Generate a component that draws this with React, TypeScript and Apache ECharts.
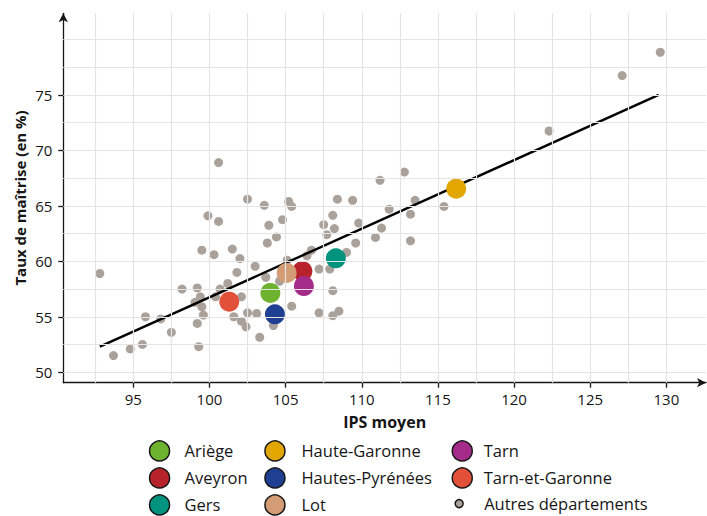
import React, { useEffect, useRef } from "react";
import * as echarts from "echarts";

// ---------- data ----------
const otherIps = [
  92.8, 93.7, 94.8, 95.6, 95.8, 96.8, 97.5, 98.2, 99.2, 99.4, 99.05, 99.5, 99.6, 99.2, 99.3,
  99.5, 99.9, 100.3, 100.6, 100.6, 100.7, 100.4, 101.2, 101.5, 101.6, 101.8, 102.0, 102.1,
  102.1, 102.4, 102.5, 102.5, 103.0, 103.1, 103.3, 103.6, 103.7, 103.8, 103.9, 104.2, 104.4,
  104.8, 105.2, 105.4, 105.4, 105.1, 106.7, 106.4, 107.2, 107.9, 108.1, 107.2, 108.1, 108.5,
  107.5, 107.7, 108.2, 108.1, 108.4, 109.4, 109.8, 109.6, 109.0, 110.9, 111.3, 111.2, 111.8,
  112.8, 113.2, 113.5, 113.2, 115.4, 122.3, 127.1, 129.6, 104.6,
];
const otherTaux = [
  58.9, 51.5, 52.1, 52.5, 55.0, 54.8, 53.6, 57.5, 57.6, 56.8, 56.3, 55.9, 55.15, 54.4, 52.3,
  61.0, 64.1, 60.6, 68.9, 63.6, 57.5, 56.8, 58.0, 61.1, 55.0, 59.0, 60.25, 56.8,
  54.6, 54.1, 55.35, 65.6, 59.55, 55.3, 53.15, 65.05, 58.56, 61.65, 63.25, 54.2, 62.2,
  63.75, 65.4, 64.95, 55.95, 60.1, 61.0, 60.5, 59.3, 59.3, 57.35, 55.35, 55.1, 55.5,
  63.3, 62.4, 62.95, 64.15, 65.6, 65.5, 63.45, 61.65, 60.8, 62.15, 63.0, 67.3, 64.7,
  68.05, 64.25, 65.5, 61.85, 64.95, 71.75, 76.75, 78.85, 58.2,
];

const deptNames = [
  "Ariège", "Aveyron", "Gers", "Haute-Garonne", "Hautes-Pyrénées", "Lot", "Tarn", "Tarn-et-Garonne",
];
const deptIps = [104.0, 106.1, 108.3, 116.2, 104.3, 105.07, 106.2, 101.3];
const deptTaux = [57.15, 59.1, 60.27, 66.55, 55.22, 58.95, 57.77, 56.36];
const deptColors = [
  "#6db32f", "#b8232b", "#00947f", "#e2a600", "#1f3f92", "#d49c74", "#a52b8b", "#e3503a",
];
const otherName = "Autres départements";

const regX = [92.8, 129.5];
const regY = [52.3, 75.0];

const xTicks = [95, 100, 105, 110, 115, 120, 125, 130];
const yTicks = [50, 55, 60, 65, 70, 75];
const xGridLines = [92.5, 95, 97.5, 100, 102.5, 105, 107.5, 110, 112.5, 115, 117.5, 120, 122.5, 125, 127.5, 130];
const yGridLines = [50, 52.5, 55, 57.5, 60, 62.5, 65, 67.5, 70, 72.5, 75, 77.5, 80];

// ---------- layout ----------
const FONT = "Open Sans";
const TXT = "#161616";
const PX_X_REF = 133.3; // pixel of xTicks[0]
const PX_PER_X = 15.23;
const PX_Y_REF = 372.2; // pixel of yTicks[0]
const PX_PER_Y = 11.09;
const P_LEFT = 63.3;
const P_RIGHT = 706;
const P_TOP = 13.3;
const P_BOTTOM = 382.7;

const toPxX = (v: number) => PX_X_REF + (v - xTicks[0]) * PX_PER_X;
const toPxY = (v: number) => PX_Y_REF - (v - yTicks[0]) * PX_PER_Y;
const xMin = xTicks[0] - (PX_X_REF - P_LEFT) / PX_PER_X;
const xMax = xTicks[0] + (P_RIGHT - PX_X_REF) / PX_PER_X;
const yMin = yTicks[0] - (P_BOTTOM - PX_Y_REF) / PX_PER_Y;
const yMax = yTicks[0] + (PX_Y_REF - P_TOP) / PX_PER_Y;

export default function App() {
  const ref = useRef<HTMLDivElement>(null);

  useEffect(() => {
    if (!ref.current) return;
    const chart = echarts.init(ref.current, undefined, { renderer: "svg" });

    const lx0 = toPxX(xTicks[0]);
    const lx1 = toPxX(xTicks[xTicks.length - 1]);
    const ly0 = toPxY(yTicks[yTicks.length - 1]);
    const ly1 = toPxY(yTicks[0]);

    const legendBase = {
      orient: "vertical" as const,
      itemWidth: 20,
      itemHeight: 20,
      itemGap: 5.5,
      icon: "circle",
      padding: 0,
      height: 80,
      selectedMode: false,
      itemStyle: { borderColor: "#161616", borderWidth: 1.5, opacity: 1 },
    };
    const legendText = (pad: number) => ({
      fontFamily: FONT,
      fontSize: 16.5,
      color: TXT,
      lineHeight: 20,
      padding: [0, 0, 0, pad],
    });

    const option: any = {
      animation: false,
      backgroundColor: "#ffffff",
      grid: [
        { left: P_LEFT, top: P_TOP, width: P_RIGHT - P_LEFT, height: P_BOTTOM - P_TOP, containLabel: false },
        { left: lx0, top: ly0, width: lx1 - lx0, height: ly1 - ly0, containLabel: false },
      ],
      xAxis: [
        {
          gridIndex: 0,
          type: "value",
          min: xMin,
          max: xMax,
          axisLine: {
            show: true,
            symbol: ["none", "arrow"],
            symbolSize: [7, 9],
            lineStyle: { color: TXT, width: 1.3 },
          },
          axisTick: { show: false },
          axisLabel: { show: false },
          splitLine: { show: false },
          name: "IPS moyen",
          nameLocation: "middle",
          nameGap: 31,
          nameTextStyle: { fontFamily: FONT, fontSize: 16, fontWeight: "bold", color: TXT },
        },
        {
          gridIndex: 1,
          type: "value",
          min: xTicks[0],
          max: xTicks[xTicks.length - 1],
          interval: xTicks[1] - xTicks[0],
          offset: P_BOTTOM - ly1,
          axisLine: { show: false },
          axisTick: { show: true, length: 5, lineStyle: { color: TXT, width: 1.3 } },
          axisLabel: { show: true, fontFamily: FONT, fontSize: 15, color: TXT, margin: 9 },
          splitLine: { show: false },
        },
      ],
      yAxis: [
        {
          gridIndex: 0,
          type: "value",
          min: yMin,
          max: yMax,
          axisLine: {
            show: true,
            symbol: ["none", "arrow"],
            symbolSize: [7, 9],
            lineStyle: { color: TXT, width: 1.3 },
          },
          axisTick: { show: false },
          axisLabel: { show: false },
          splitLine: { show: false },
          name: "Taux de maîtrise (en %)",
          nameLocation: "middle",
          nameGap: 36,
          nameTextStyle: { fontFamily: FONT, fontSize: 15, fontWeight: "bold", color: TXT },
        },
        {
          gridIndex: 1,
          type: "value",
          min: yTicks[0],
          max: yTicks[yTicks.length - 1],
          interval: yTicks[1] - yTicks[0],
          offset: lx0 - P_LEFT,
          axisLine: { show: false },
          axisTick: { show: true, length: 5, lineStyle: { color: TXT, width: 1.3 } },
          axisLabel: { show: true, fontFamily: FONT, fontSize: 15, color: TXT, margin: 11 },
          splitLine: { show: false },
        },
      ],
      legend: [
        { ...legendBase, data: deptNames.slice(0, 3), left: 148.8, top: 440.2, textStyle: legendText(10) },
        { ...legendBase, data: deptNames.slice(3, 6), left: 264.2, top: 440.2, textStyle: legendText(11.5) },
        { ...legendBase, data: deptNames.slice(6, 8), left: 451.5, top: 440.2, textStyle: legendText(6.5) },
        {
          ...legendBase,
          itemWidth: 8,
          itemHeight: 8,
          height: 24,
          data: [otherName],
          left: 454.4,
          top: 493.6,
          textStyle: legendText(16),
        },
      ],
      series: [
        {
          type: "line",
          xAxisIndex: 0,
          yAxisIndex: 0,
          data: [[xMin, yMin]],
          symbol: "none",
          silent: true,
          z: 0,
          markLine: {
            silent: true,
            symbol: ["none", "none"],
            label: { show: false },
            lineStyle: { color: "#e4e4e4", width: 1.2, type: "solid" },
            emphasis: { disabled: true },
            data: [
              ...xGridLines.map((v) => ({ xAxis: v })),
              ...yGridLines.map((v) => ({ yAxis: v })),
            ],
          },
        },
        {
          name: otherName,
          type: "scatter",
          xAxisIndex: 0,
          yAxisIndex: 0,
          symbol: "circle",
          symbolSize: 9,
          itemStyle: { color: "#aaa19b", opacity: 1 },
          data: otherIps.map((x, i) => [x, otherTaux[i]]),
          z: 2,
        },
        {
          type: "line",
          xAxisIndex: 0,
          yAxisIndex: 0,
          symbol: "none",
          silent: true,
          lineStyle: { color: "#000000", width: 2.4 },
          data: regX.map((x, i) => [x, regY[i]]),
          z: 3,
        },
        ...deptNames.map((n, i) => ({
          name: n,
          type: "scatter",
          xAxisIndex: 0,
          yAxisIndex: 0,
          symbol: "circle",
          symbolSize: 20,
          itemStyle: { color: deptColors[i], opacity: 1 },
          data: [[deptIps[i], deptTaux[i]]],
          z: 4,
        })),
      ],
    };

    chart.setOption(option);
    return () => chart.dispose();
  }, []);

  return (
    <div
      ref={ref}
      style={{ position: "fixed", left: 0, top: 0, width: 707, height: 516, background: "#fff" }}
    />
  );
}
